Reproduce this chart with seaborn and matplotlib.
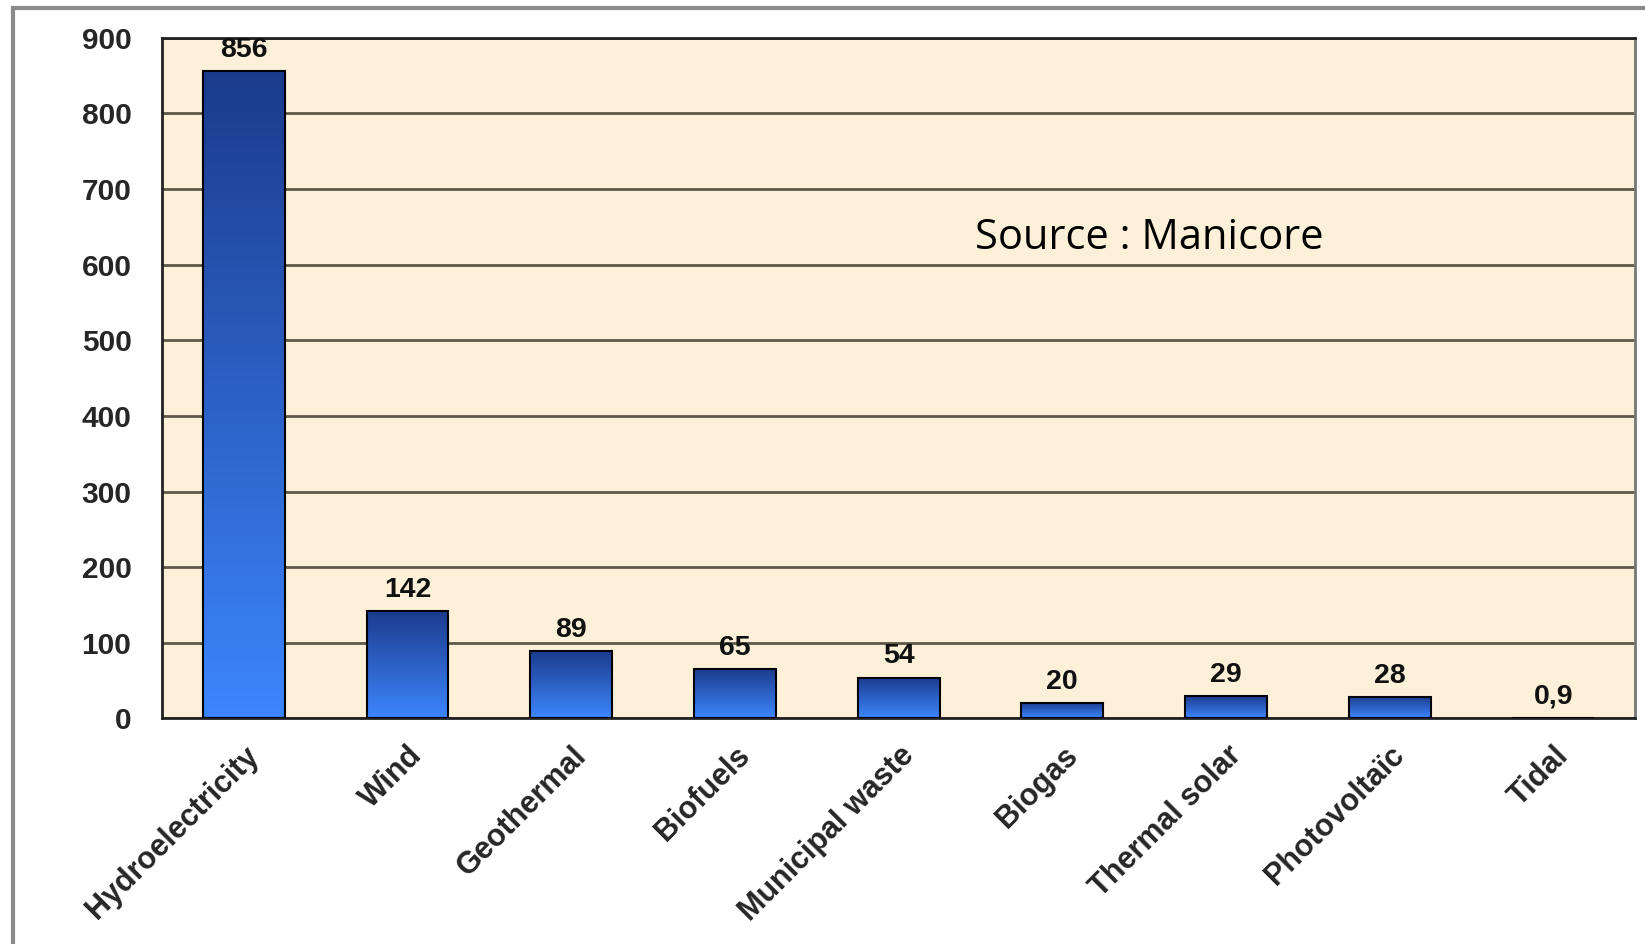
import numpy as np
import pandas as pd
import matplotlib
matplotlib.use("Agg")
import matplotlib.pyplot as plt
import seaborn as sns
from matplotlib.colors import LinearSegmentedColormap
from matplotlib.patches import Rectangle

categories = ["Hydroelectricity", "Wind", "Geothermal", "Biofuels", "Municipal waste",
              "Biogas", "Thermal solar", "Photovoltaïc", "Tidal"]
values = [856, 142, 89, 65, 54, 20, 29, 28, 0.9]
value_labels = ["856", "142", "89", "65", "54", "20", "29", "28", "0,9"]
yticks = [0, 100, 200, 300, 400, 500, 600, 700, 800, 900]

df = pd.DataFrame({"cat": categories, "val": values})

sns.set_style("white")
plt.rcParams["font.family"] = ["Liberation Sans", "DejaVu Sans"]

fig = plt.figure(figsize=(16.45, 9.44), dpi=100)
ax = fig.add_axes([0.0985, 0.239, 0.8955, 0.721])
ax.set_facecolor("#fcf1d8")

sns.barplot(data=df, x="cat", y="val", ax=ax, width=0.5, color="#2d5fd0",
            edgecolor="black", linewidth=1.5, zorder=3)

# gradient fill in each bar (dark on top, light at bottom)
cmap = LinearSegmentedColormap.from_list("bluegrad", ["#3d86fd", "#1b3b8c"])
grad = np.linspace(0, 1, 256).reshape(-1, 1)
for p in ax.patches:
    x0, y0 = p.get_x(), p.get_y()
    w, h = p.get_width(), p.get_height()
    im = ax.imshow(grad, cmap=cmap, aspect="auto", origin="lower",
                   extent=[x0, x0 + w, y0, y0 + h], zorder=3.5)
    im.set_clip_path(p)
    p.set_facecolor("none")
    p.set_zorder(4)

for i, (v, lab) in enumerate(zip(values, value_labels)):
    ax.text(i, v + 11, lab, ha="center", va="bottom", fontsize=20.5,
            fontweight="bold", color="#111111", zorder=5)

ax.set_xlim(-0.5, len(categories) - 0.5)
ax.set_ylim(0, 900)
ax.set_yticks(yticks)
ax.set_yticklabels([str(t) for t in yticks], fontsize=21.5, fontweight="bold")
ax.yaxis.grid(True, color="#5f5848", linewidth=2, zorder=1)
ax.set_axisbelow(True)

ax.set_xticks(range(len(categories)))
ax.set_xticklabels(categories, rotation=45, ha="right", rotation_mode="anchor",
                   fontsize=22, fontweight="bold")
ax.tick_params(axis="x", length=0, pad=16)
ax.set_xticks(np.arange(-0.5, len(categories), 1), minor=True)
ax.tick_params(axis="x", which="minor", length=7, width=1.5, color="#333333", direction="out")
ax.tick_params(axis="y", length=10, width=1.5, color="#333333", direction="out", pad=12)
ax.set_xlabel("")
ax.set_ylabel("")

for side in ["left", "bottom", "top"]:
    ax.spines[side].set_color("#222222")
    ax.spines[side].set_linewidth(2)
ax.spines["right"].set_color("#777777")
ax.spines["right"].set_linewidth(2)

ax.text(0.67, 0.706, "Source : Manicore", transform=ax.transAxes, ha="center",
        va="center", fontsize=30, family="Open Sans", color="black", zorder=6)

fig.patches.append(Rectangle((0.008, -0.05), 1.1, 1.042, transform=fig.transFigure,
                             fill=False, edgecolor="#8a8a8a", linewidth=3))

fig.savefig("out.png", dpi=100)
